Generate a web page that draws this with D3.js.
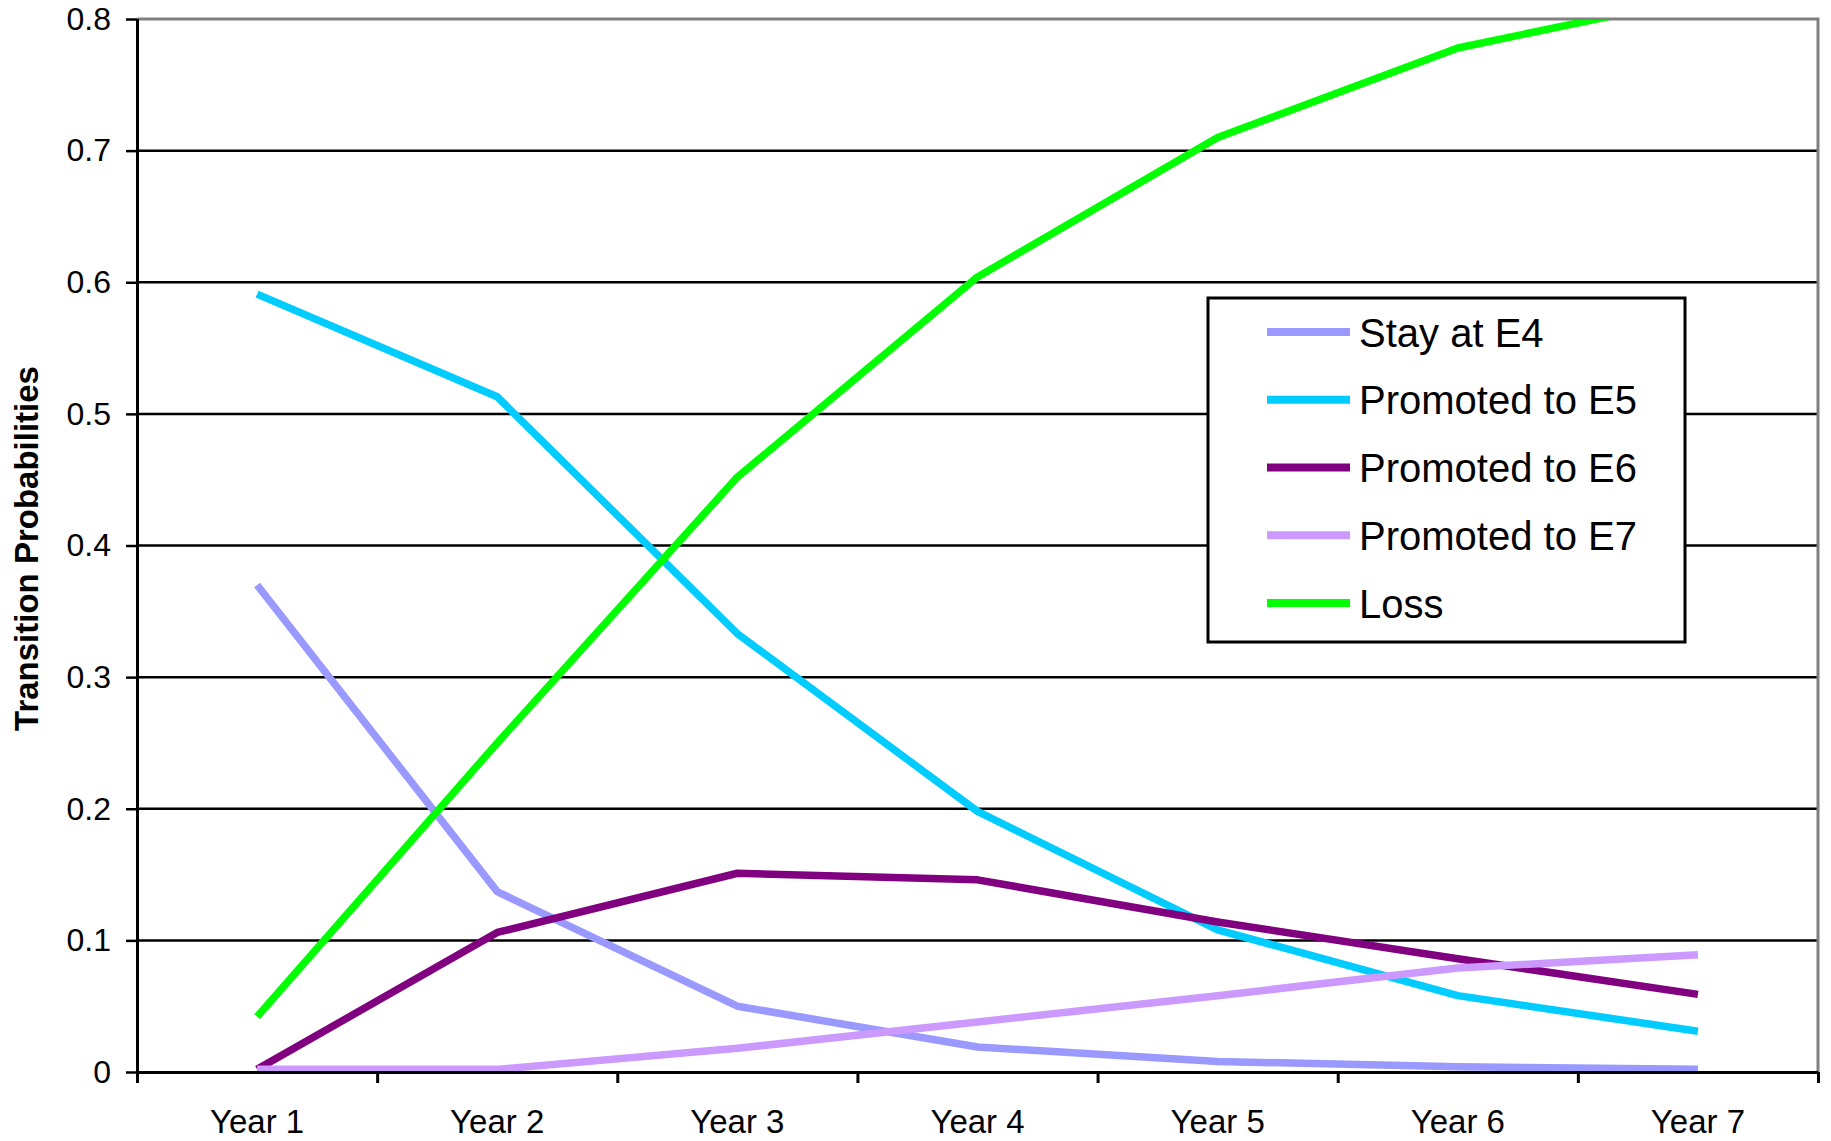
<!DOCTYPE html>
<html>
<head>
<meta charset="utf-8">
<script src="https://cdn.jsdelivr.net/npm/d3@7"></script>
<style>
  html, body { margin: 0; padding: 0; background: #fff; }
  svg { display: block; font-family: "Liberation Sans", Arial, sans-serif; }
</style>
</head>
<body>
<svg id="chart" width="1831" height="1141"></svg>
<script>
// Categories along the horizontal axis
const years = ["Year 1", "Year 2", "Year 3", "Year 4", "Year 5", "Year 6", "Year 7"];

// Transition probabilities per series
const stayE4      = [0.370, 0.137, 0.050, 0.019, 0.008, 0.004, 0.002];
const promotedE5  = [0.591, 0.513, 0.333, 0.198, 0.108, 0.058, 0.031];
const promotedE6  = [0.002, 0.106, 0.151, 0.146, 0.114, 0.086, 0.059];
const promotedE7  = [0.002, 0.002, 0.018, 0.038, 0.058, 0.079, 0.089];
const loss        = [0.042, 0.250, 0.452, 0.604, 0.710, 0.778, 0.816];

const seriesNames  = ["Stay at E4", "Promoted to E5", "Promoted to E6", "Promoted to E7", "Loss"];
const seriesValues = [stayE4, promotedE5, promotedE6, promotedE7, loss];
const seriesColors = ["#9999FF", "#00CCFF", "#800080", "#CC99FF", "#00FF00"];

// Value axis ticks
const yTicks = [0, 0.1, 0.2, 0.3, 0.4, 0.5, 0.6, 0.7, 0.8];
const yTickLabels = ["0", "0.1", "0.2", "0.3", "0.4", "0.5", "0.6", "0.7", "0.8"];

const plot = { left: 137, right: 1818, top: 19, bottom: 1072 };

const svg = d3.select("#chart");

const x = d3.scaleBand().domain(years).range([plot.left, plot.right]).padding(0);
const xEdges = d3.scaleLinear().domain([0, years.length]).range([plot.left, plot.right]);
const y = d3.scaleLinear().domain([0, 0.8]).range([plot.bottom, plot.top]);

// Horizontal gridlines
svg.append("g")
  .selectAll("line")
  .data(yTicks.filter(v => v > 0 && v < 0.8))
  .join("line")
  .attr("x1", plot.left).attr("x2", plot.right)
  .attr("y1", d => y(d)).attr("y2", d => y(d))
  .attr("stroke", "#000").attr("stroke-width", 2.5);

// Plot area border (top and right)
svg.append("path")
  .attr("d", `M${plot.left},${y(0.8)}H${plot.right}V${plot.bottom}`)
  .attr("fill", "none")
  .attr("stroke", "#808080")
  .attr("stroke-width", 3);

// Clip lines to the plot area
svg.append("defs").append("clipPath").attr("id", "plotClip")
  .append("rect")
  .attr("x", plot.left).attr("y", y(0.8) + 1)
  .attr("width", plot.right - plot.left)
  .attr("height", plot.bottom - y(0.8) - 1);

const line = d3.line()
  .x((d, i) => x(years[i]) + x.bandwidth() / 2)
  .y(d => y(d));

svg.append("g")
  .attr("clip-path", "url(#plotClip)")
  .selectAll("path")
  .data(seriesValues)
  .join("path")
  .attr("d", d => line(d))
  .attr("fill", "none")
  .attr("stroke", (d, i) => seriesColors[i])
  .attr("stroke-width", 7.5)
  .attr("stroke-linejoin", "round")
  .attr("stroke-linecap", "butt");

// Value axis
const yAxis = svg.append("g")
  .attr("transform", `translate(${plot.left},0)`)
  .call(d3.axisLeft(y)
    .tickValues(yTicks)
    .tickFormat((d, i) => yTickLabels[i])
    .tickSize(11)
    .tickPadding(15));
yAxis.select(".domain").attr("stroke", "#000").attr("stroke-width", 3)
  .attr("d", `M0.5,${plot.bottom + 11}V${y(0.8)}`);
yAxis.selectAll(".tick line").attr("stroke", "#000").attr("stroke-width", 2.5);
yAxis.selectAll(".tick text")
  .attr("font-size", 32)
  .attr("font-family", "'Liberation Sans', Arial, sans-serif")
  .attr("fill", "#000");

// Category axis: tick marks at band edges, labels at band centers
const xTickG = svg.append("g")
  .attr("transform", `translate(0,${plot.bottom})`)
  .call(d3.axisBottom(xEdges)
    .tickValues(d3.range(0, years.length + 1))
    .tickFormat("")
    .tickSize(11));
xTickG.select(".domain").attr("stroke", "#000").attr("stroke-width", 3)
  .attr("d", `M${plot.left},0.5H${plot.right}`);
xTickG.selectAll(".tick line").attr("stroke", "#000").attr("stroke-width", 3);

const xLabelG = svg.append("g")
  .attr("transform", `translate(0,${plot.bottom})`)
  .call(d3.axisBottom(x).tickSize(0).tickPadding(38));
xLabelG.select(".domain").remove();
xLabelG.selectAll(".tick text")
  .attr("font-size", 33)
  .attr("font-family", "'Liberation Sans', Arial, sans-serif")
  .attr("fill", "#000");

// Value axis title
svg.append("text")
  .attr("transform", `translate(26,${(plot.top + plot.bottom) / 2 + 3}) rotate(-90)`)
  .attr("text-anchor", "middle")
  .attr("dominant-baseline", "central")
  .attr("font-size", 33)
  .attr("font-weight", "bold")
  .attr("fill", "#000")
  .text("Transition Probabilities");

// Legend
const legend = svg.append("g");
legend.append("rect")
  .attr("x", 1208).attr("y", 298)
  .attr("width", 477).attr("height", 344)
  .attr("fill", "#fff").attr("stroke", "#000").attr("stroke-width", 3);

const rowY = d3.scaleLinear().domain([0, seriesNames.length - 1]).range([332, 603]);
const items = legend.selectAll("g.item")
  .data(seriesNames)
  .join("g")
  .attr("class", "item")
  .attr("transform", (d, i) => `translate(0,${rowY(i)})`);
items.append("line")
  .attr("x1", 1267).attr("x2", 1350)
  .attr("y1", 0).attr("y2", 0)
  .attr("stroke", (d, i) => seriesColors[i])
  .attr("stroke-width", 8);
items.append("text")
  .attr("x", 1359).attr("y", 14.5)
  .attr("font-size", 40)
  .attr("fill", "#000")
  .text(d => d);
</script>
</body>
</html>
